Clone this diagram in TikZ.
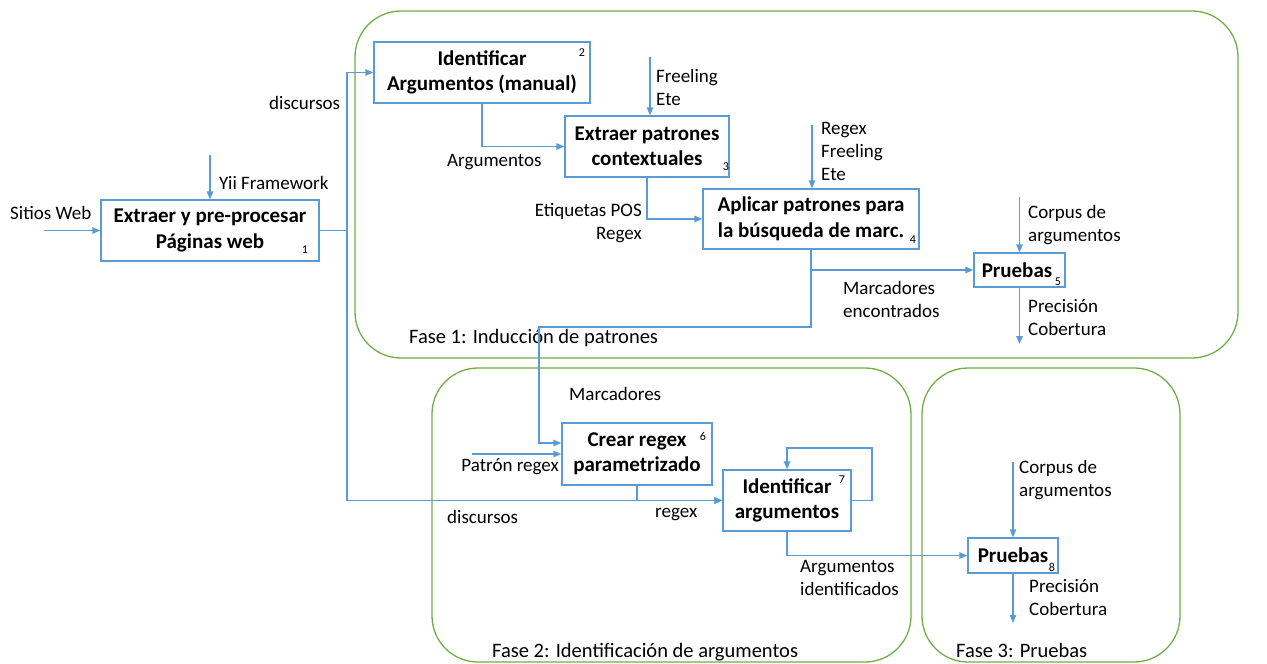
\documentclass[tikz,border=0pt]{standalone}
\usepackage{fontspec}
\setmainfont{Carlito}
\usetikzlibrary{arrows.meta}
\definecolor{flowblue}{HTML}{5B9BD5}
\definecolor{phasegreen}{HTML}{70AD47}

\begin{document}
\begin{tikzpicture}[x=1pt,y=-1pt,
  proc/.style={draw=flowblue, line width=1.3pt, inner sep=0pt, align=center,
    font=\fontsize{21}{25.5}\selectfont\bfseries},
  lbl/.style={inner sep=0pt, anchor=west, align=left, font=\fontsize{19}{23}\selectfont},
  lblr/.style={lbl, anchor=east, align=right},
  idx/.style={inner sep=0pt, font=\fontsize{12}{12}\selectfont},
  flow/.style={draw=flowblue, line width=1.3pt},
  arr/.style={flow, -{Triangle[length=8pt,width=6.5pt]}},
  phase/.style={draw=phasegreen, line width=1.3pt, rounded corners=46pt},
  phaselbl/.style={inner sep=0pt, anchor=west, font=\fontsize{20.5}{24}\selectfont}
]
\useasboundingbox (0,0) rectangle (1267,664);

% phase frames
\draw[phase] (355,11) rectangle (1238,358);
\draw[phase] (432,368) rectangle (911,662);
\draw[phase] (922,368) rectangle (1180,662);
\node[phaselbl] (f1) at (409,338) {Fase 1: Inducción de patrones};
\node[phaselbl] (f2) at (492,652) {Fase 2: Identificación de argumentos};
\node[phaselbl] (f3) at (956,650) {Fase 3: Pruebas};

% process boxes
\node[proc, minimum width=218pt, minimum height=61pt] (b1) at (210,230.5) {Extraer y pre-procesar\\Páginas web};
\node[proc, minimum width=216pt, minimum height=61pt] (b2) at (482,72.5) {Identificar\\Argumentos (manual)};
\node[proc, minimum width=164pt, minimum height=61pt] (b3) at (647,146.5) {Extraer patrones\\contextuales};
\node[proc, minimum width=216pt, minimum height=60pt] (b4) at (811,219) {Aplicar patrones para\\la búsqueda de marc.};
\node[proc, minimum width=91pt, minimum height=34pt] (b5) at (1019.5,270) {\hspace*{-5pt}Pruebas};
\node[proc, minimum width=150pt, minimum height=62pt] (b6) at (637,454) {Crear regex\\parametrizado};
\node[proc, minimum width=128pt, minimum height=61pt] (b7) at (787,500.5) {Identificar\\argumentos};
\node[proc, minimum width=90pt, minimum height=35pt] (b8) at (1013,555.5) {Pruebas};

% step numbers
\node[idx] (n1) at (305,250) {1};
\node[idx] (n2) at (582,53) {2};
\node[idx] (n3) at (726,167) {3};
\node[idx] (n4) at (913,240) {4};
\node[idx] (n5) at (1058,282) {5};
\node[idx] (n6) at (703,436) {6};
\node[idx] (n7) at (842,480) {7};
\node[idx] (n8) at (1052,567) {8};

% free ends of the connectors
\coordinate (sitin) at (44,230.5);
\coordinate (yiiin) at (210,155);
\coordinate (dsplit) at (347,230.5);
\coordinate (frin) at (650,57);
\coordinate (rxin) at (812,125);
\coordinate (cp1) at (1019.5,197);
\coordinate (out5) at (1019.5,344);
\coordinate (m1) at (811,327);
\coordinate (m2) at (539,327);
\coordinate (prin) at (472,454);
\coordinate (lp) at (872,448);
\coordinate (cp2) at (1013,462);
\coordinate (out8) at (1013,623);

% connectors
\draw[arr] (sitin) -- (b1);
\draw[arr] (yiiin) -- (b1);
\draw[flow] (b1) -- (dsplit);
\draw[arr] (dsplit) |- (b2);
\draw[arr] (dsplit) |- (b7);
\draw[arr] (b2) |- (b3);
\draw[arr] (frin) -- (frin |- b3.north);
\draw[arr] (b3) |- (b4);
\draw[arr] (rxin) -- (rxin |- b4.north);
\draw[arr] (b4) |- (b5);
\draw[arr] (b4.south) -- (m1) -- (m2) |- ([yshift=11pt]b6.west);
\draw[arr] (cp1) -- (b5);
\draw[arr] (b5) -- (out5);
\draw[arr] (prin) -- (b6);
\draw[arr] (b6) |- (b7);
\draw[arr] (b7.east) -| (lp) -| (b7.north);
\draw[arr] (b7) |- (b8);
\draw[arr] (cp2) -- (b8);
\draw[arr] (b8) -- (out8);

% connector labels
\node[lbl] (l1) at (10,213) {Sitios Web};
\node[lbl] (l2) at (219,183) {Yii Framework};
\node[lbl] (l3) at (269,103) {discursos};
\node[lbl] (l4) at (447,162) {Argumentos};
\node[lbl] (l5) at (656,87) {Freeling\\Ete};
\node[lblr] (l6) at (642,223) {Etiquetas POS\\Regex};
\node[lbl] (l7) at (821,151.5) {Regex\\Freeling\\Ete};
\node[lbl] (l8) at (843,299) {Marcadores\\encontrados};
\node[lbl] (l9) at (1028,225) {Corpus de\\argumentos};
\node[lbl] (l10) at (1028,318) {Precisión\\Cobertura};
\node[lbl] (l11) at (569,394) {Marcadores};
\node[lblr] (l12) at (559,467) {Patrón regex};
\node[lbl] (l13) at (447,517) {discursos};
\node[lbl] (l14) at (655,515) {regex};
\node[lbl] (l15) at (800,577.5) {Argumentos\\identificados};
\node[lbl] (l16) at (1019,480.5) {Corpus de\\argumentos};
\node[lbl] (l17) at (1029,598) {Precisión\\Cobertura};
\end{tikzpicture}
\end{document}
